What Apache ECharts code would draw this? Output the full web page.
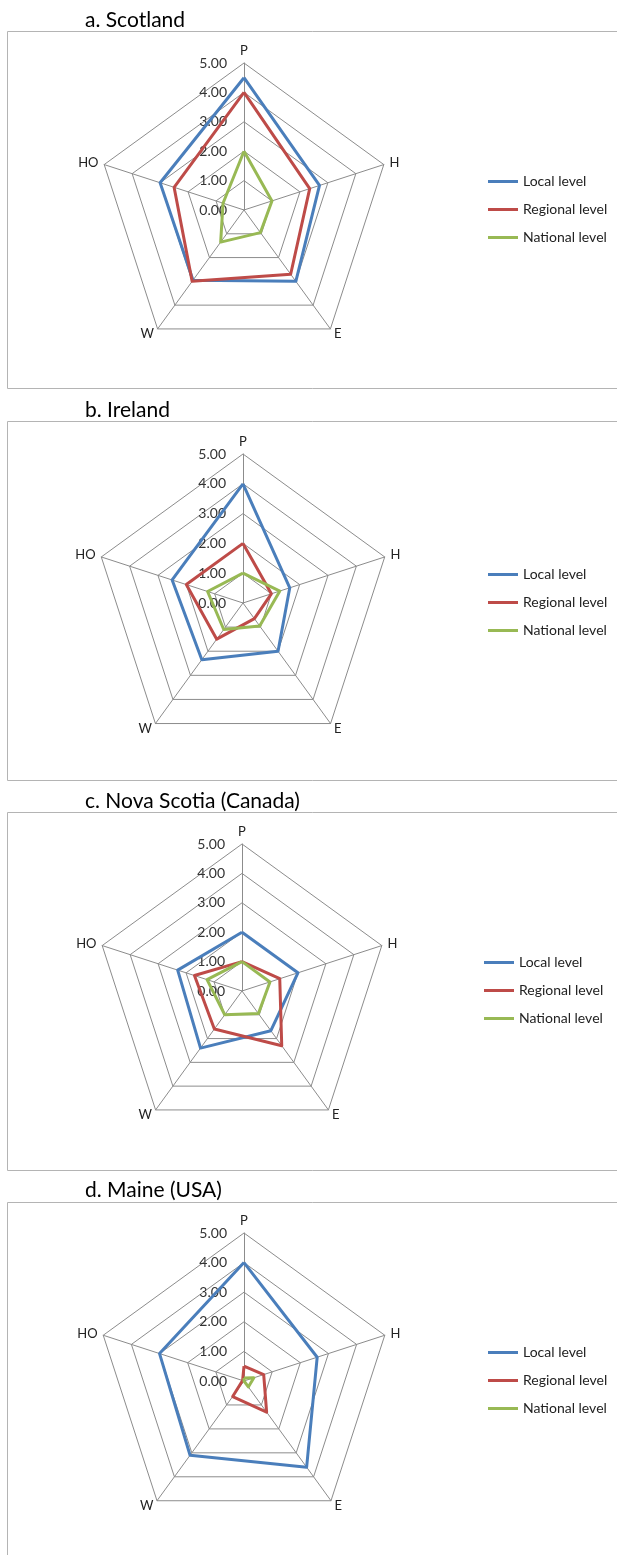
<!DOCTYPE html>
<html>
<head>
<meta charset="utf-8">
<script src="https://cdn.jsdelivr.net/npm/echarts@6/dist/echarts.min.js"></script>
<style>
html,body{margin:0;padding:0;background:#fff;}
#chart{width:617px;height:1555px;}
</style>
</head>
<body>
<div id="chart"></div>
<script>
// Axis order as ECharts draws them (counter-clockwise from top)
const categories = ['P', 'HO', 'W', 'E', 'H'];
const seriesNames = ['Local level', 'Regional level', 'National level'];
const tickValues = [0, 1, 2, 3, 4, 5];
const panelTitles = ['a. Scotland', 'b. Ireland', 'c. Nova Scotia (Canada)', 'd. Maine (USA)'];

// values in order P, HO, W, E, H
const scotlandLocal    = [4.5, 3.0, 2.95, 3.0, 2.7];
const scotlandRegional = [4.0, 2.5, 3.0, 2.7, 2.35];
const scotlandNational = [2.0, 0.75, 1.35, 0.95, 1.0];

const irelandLocal    = [4.0, 2.5, 2.35, 2.0, 1.65];
const irelandRegional = [2.0, 2.0, 1.5, 0.65, 1.0];
const irelandNational = [1.0, 1.25, 1.1, 0.95, 1.3];

const novaScotiaLocal    = [2.0, 2.3, 2.4, 1.67, 2.0];
const novaScotiaRegional = [1.0, 1.7, 1.6, 2.3, 1.35];
const novaScotiaNational = [1.0, 1.25, 1.0, 0.95, 1.0];

const maineLocal    = [4.0, 3.0, 3.1, 3.6, 2.6];
const maineRegional = [0.5, 0.05, 0.65, 1.3, 0.7];
const maineNational = [0.1, 0, 0, 0.25, 0.35];

const panelData = [
  [scotlandLocal, scotlandRegional, scotlandNational],
  [irelandLocal, irelandRegional, irelandNational],
  [novaScotiaLocal, novaScotiaRegional, novaScotiaNational],
  [maineLocal, maineRegional, maineNational]
];

const colors = ['#4a7ebb', '#be4b48', '#98b954'];
const FONT = 'Lato, "Open Sans", sans-serif';

// layout
const centers = [[244, 210], [243, 603], [242, 991], [244, 1381]];
const radii = [147, 149, 147, 148];
const boxTops = [31.5, 421.5, 812.5, 1202.5];
const boxBottoms = [388.5, 780.5, 1170.5, 1600];
const titleTops = [5, 395, 786, 1175];
const legendLefts = [483, 483, 479, 483];

const radar = [], series = [], legend = [], title = [], graphic = [];
const tMin = tickValues[0], tMax = tickValues[tickValues.length - 1];

for (let p = 0; p < 4; p++) {
  graphic.push({
    type: 'rect', z: -10,
    shape: {x: 7.5, y: boxTops[p], width: 700, height: boxBottoms[p] - boxTops[p]},
    style: {fill: 'none', stroke: '#b4b4b4', lineWidth: 1}
  });
  title.push({
    text: panelTitles[p], left: 80, top: titleTops[p],
    textStyle: {fontFamily: FONT, fontSize: 21, fontWeight: 'normal', color: '#000'}
  });
  radar.push({
    center: centers[p], radius: radii[p], startAngle: 90,
    splitNumber: tickValues.length - 1, shape: 'polygon',
    indicator: categories.map((c, i) => {
      const o = {name: c, min: tMin, max: tMax};
      if (i === 0) o.axisLabel = {show: true};
      return o;
    }),
    nameGap: 6,
    axisName: {color: '#222', fontSize: 13, fontFamily: FONT},
    splitLine: {lineStyle: {color: '#8c8c8c', width: 1}},
    splitArea: {show: false},
    axisLine: {lineStyle: {color: '#8c8c8c', width: 1}},
    axisTick: {show: false},
    axisLabel: {
      show: false, fontSize: 14, color: '#333', fontFamily: FONT, margin: 8,
      padding: [0, 9, 0, 0],
      formatter: v => Number(v).toFixed(2)
    }
  });
  series.push({
    type: 'radar', radarIndex: p, symbol: 'none', silent: true,
    data: panelData[p].map((vals, k) => ({
      name: seriesNames[k], value: vals,
      lineStyle: {color: colors[k], width: 3},
      itemStyle: {color: colors[k]}
    }))
  });
  legend.push({
    orient: 'vertical', left: legendLefts[p], top: centers[p][1] - 42,
    icon: 'rect', itemWidth: 30, itemHeight: 3, itemGap: 11,
    data: seriesNames,
    textStyle: {fontFamily: FONT, fontSize: 14, color: '#222', lineHeight: 17}
  });
}

const chart = echarts.init(document.getElementById('chart'));
chart.setOption({
  animation: false,
  backgroundColor: '#fff',
  title, radar, series, legend, graphic
});
</script>
</body>
</html>
